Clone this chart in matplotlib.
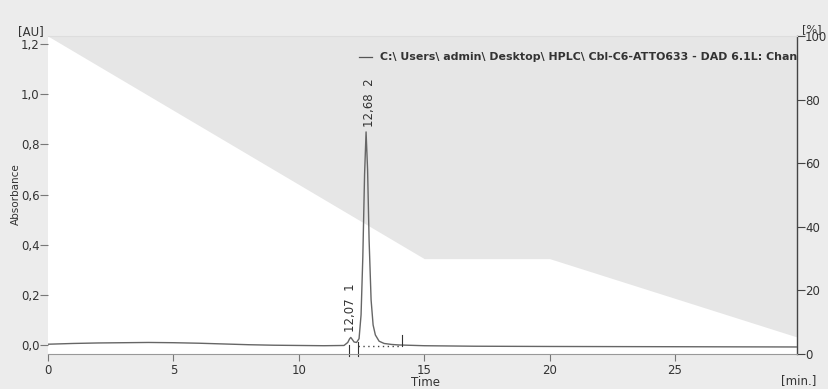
import matplotlib
matplotlib.use("Agg")
import matplotlib.pyplot as plt
from matplotlib.ticker import FuncFormatter

# chromatogram trace (time [min], absorbance [AU])
time = [0, 1, 2, 3, 4, 5, 6, 7, 8, 9, 10, 11, 11.8, 11.95, 12.02, 12.07, 12.13,
        12.2, 12.3, 12.4, 12.48, 12.55, 12.62, 12.68, 12.74, 12.80, 12.88,
        12.96, 13.05, 13.2, 13.4, 13.7, 14.0, 15, 17, 20, 25, 29.85]
absorb = [0.003, 0.006, 0.008, 0.009, 0.010, 0.009, 0.007, 0.004, 0.001, -0.001,
          -0.002, -0.003, -0.002, 0.010, 0.024, 0.030, 0.022,
          0.012, 0.010, 0.025, 0.12, 0.35, 0.68, 0.85, 0.70, 0.42, 0.18,
          0.08, 0.04, 0.015, 0.006, 0.002, 0.0, -0.003, -0.005, -0.006, -0.007, -0.008]

# gradient profile (time [min], %)
grad_t = [0, 15, 20, 30]
grad_p = [100, 30, 30, 5]

# peaks
peak_rt = [12.07, 12.68]
peak_h = [0.030, 0.85]
peak_no = ["1", "2"]

left_ticks = [0.0, 0.2, 0.4, 0.6, 0.8, 1.0, 1.2]
right_ticks = [0, 20, 40, 60, 80, 100]
x_ticks = [0, 5, 10, 15, 20, 25]

bg = "#ececec"
fig = plt.figure(figsize=(8.29, 3.89), dpi=100, facecolor=bg)
ax = fig.add_axes([0.058, 0.090, 0.903, 0.817])
ax.set_facecolor("white")
ax2 = ax.twinx()

# gradient: grey area above the profile
ax2.fill_between(grad_t, grad_p, 100, color="#e6e6e6", lw=0, zorder=0)
ax2.set_ylim(0, 100)
ax.set_zorder(ax2.get_zorder() + 1)
ax.patch.set_visible(False)
ax2.patch.set_facecolor("white")
ax2.patch.set_visible(True)

ax.plot(time, absorb, color="#666666", lw=1.0)
ax.set_xlim(0, 29.85)
ax.set_ylim(-0.036, 1.232)

# integration markers
ax.plot([12.35, 14.0], [-0.003, -0.003], ls=(0, (1, 2.5)), color="#444444", lw=1.0)
ax.plot([12.0, 12.0], [-0.045, 0.0], color="#333333", lw=0.8, clip_on=False)
ax.plot([12.35, 12.35], [-0.045, 0.012], color="#333333", lw=0.8, clip_on=False)
ax.plot([14.1, 14.1], [-0.003, 0.04], color="#333333", lw=0.8)

# peak labels
ax.text(peak_rt[0] - 0.03, peak_h[0] + 0.022, f"{peak_rt[0]:.2f}".replace(".", ",") + "  " + peak_no[0],
        rotation=90, ha="center", va="bottom", fontsize=8.5, color="#333333")
ax.text(peak_rt[1] + 0.14, peak_h[1] + 0.02, f"{peak_rt[1]:.2f}".replace(".", ",") + "  " + peak_no[1],
        rotation=90, ha="center", va="bottom", fontsize=8.5, color="#333333")

# legend-like line
ax.plot([0.4155, 0.433], [0.935, 0.935], transform=ax.transAxes, color="#555555", lw=0.9)
ax.text(0.444, 0.935, "C:\\ Users\\ admin\\ Desktop\\ HPLC\\ Cbl-C6-ATTO633 - DAD 6.1L: Channel 1",
        transform=ax.transAxes, fontsize=7.9, fontweight="bold", color="#333333",
        va="center", ha="left", clip_on=True)

fmt = FuncFormatter(lambda v, p: f"{v:.1f}".replace(".", ","))
ax.set_yticks(left_ticks)
ax.yaxis.set_major_formatter(fmt)
ax.set_xticks(x_ticks)
ax2.set_yticks(right_ticks)

for a in (ax, ax2):
    for s in a.spines.values():
        s.set_visible(False)
ax2.spines["right"].set_visible(True)
ax2.spines["right"].set_color("#444444")
ax2.spines["right"].set_linewidth(1.0)
ax.spines["bottom"].set_visible(True)
ax.spines["bottom"].set_color("#999999")
ax.spines["top"].set_visible(True)
ax.spines["top"].set_color("#dddddd")

ax.tick_params(axis="y", length=6, width=0.8, color="#777777", labelsize=8.5,
               labelcolor="#333333", pad=0)
ax.tick_params(axis="x", length=5, width=0.8, color="#777777", labelsize=8.5,
               labelcolor="#333333", pad=2)
ax2.tick_params(axis="y", length=6, width=0.8, color="#444444", labelsize=8.5,
                labelcolor="#333333", pad=0)

fig.text(0.019, 0.500, "Absorbance", rotation=90, ha="center", va="center",
         fontsize=7.5, color="#333333")
fig.text(0.022, 0.920, "[AU]", ha="left", va="center", fontsize=8.5, color="#333333")
fig.text(0.968, 0.925, "[%]", ha="left", va="center", fontsize=8, color="#333333")
fig.text(0.513, 0.016, "Time", ha="center", va="center", fontsize=8.5, color="#333333")
fig.text(0.963, 0.022, "[min.]", ha="center", va="center", fontsize=8.5, color="#333333")
fig.text(1.003, 0.500, "Concentration", rotation=270, ha="center", va="center",
         fontsize=8, color="#333333")

fig.savefig("out.png", dpi=100, facecolor=bg)
